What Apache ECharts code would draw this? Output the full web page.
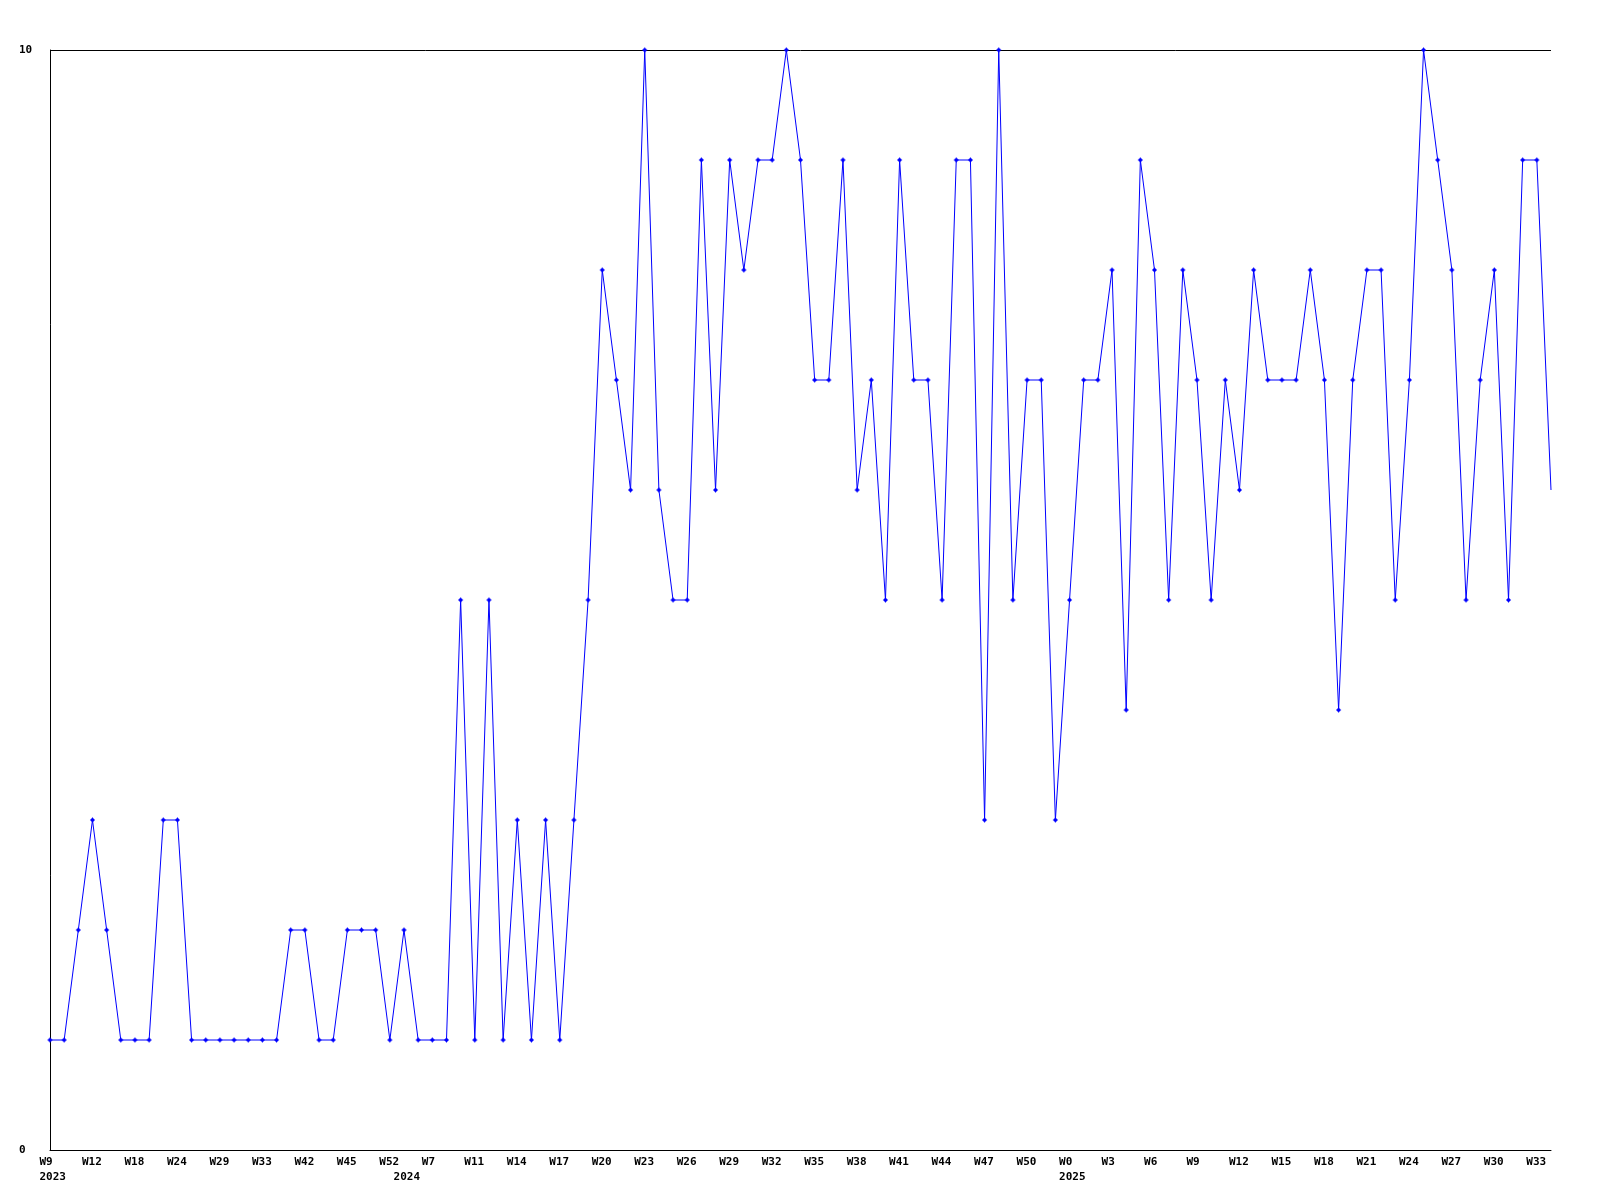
<!DOCTYPE html>
<html>
<head>
<meta charset="utf-8">
<script src="https://cdn.jsdelivr.net/npm/echarts@6/dist/echarts.min.js"></script>
<style>
  html, body { margin: 0; padding: 0; background: #fff; }
  #chart { width: 1600px; height: 1200px; }
</style>
</head>
<body>
<div id="chart"></div>
<script>
// Series values, one per plotted point (107 points)
const values = [
  1, 1, 2, 3, 2, 1, 1, 1, 3, 3,
  1, 1, 1, 1, 1, 1, 1, 2, 2, 1,
  1, 2, 2, 2, 1, 2, 1, 1, 1, 5,
  1, 5, 1, 3, 1, 3, 1, 3, 5, 8,
  7, 6, 10, 6, 5, 5, 9, 6, 9, 8,
  9, 9, 10, 9, 7, 7, 9, 6, 7, 5,
  9, 7, 7, 5, 9, 9, 3, 10, 5, 7,
  7, 3, 5, 7, 7, 8, 4, 9, 8, 5,
  8, 7, 5, 7, 6, 8, 7, 7, 7, 8,
  7, 4, 7, 8, 8, 5, 7, 10, 9, 8,
  5, 7, 8, 5, 9, 9, 6
];

// Week tick labels, shown on every third point
const weekTicks = [
  'W9', 'W12', 'W18', 'W24', 'W29', 'W33', 'W42', 'W45', 'W52', 'W7',
  'W11', 'W14', 'W17', 'W20', 'W23', 'W26', 'W29', 'W32', 'W35', 'W38',
  'W41', 'W44', 'W47', 'W50', 'W0', 'W3', 'W6', 'W9', 'W12', 'W15',
  'W18', 'W21', 'W24', 'W27', 'W30', 'W33'
];
const weekTickStep = 3;

// Year tick labels and the point index where each is shown
const yearTicks = ['2023', '2024', '2025'];
const yearTickAt = [0, 25, 72];

// Y axis
const yMin = 0;
const yMax = 10;

const categories = values.map((_, i) => String(i));

const FONT = '"DejaVu Sans Mono", "Liberation Mono", monospace';

const seriesData = values.map((v, i) =>
  i === values.length - 1 ? { value: v, symbol: 'none' } : v
);

const chart = echarts.init(document.getElementById('chart'), null, { renderer: 'canvas' });

chart.setOption({
  animation: false,
  backgroundColor: '#ffffff',
  grid: { left: 50, right: 49, top: 50, bottom: 50, containLabel: false, outerBoundsMode: 'none' },
  xAxis: {
    type: 'category',
    data: categories,
    boundaryGap: false,
    axisLine: { show: true, lineStyle: { color: '#000', width: 1 } },
    axisTick: { show: false },
    splitLine: { show: false },
    axisLabel: {
      interval: 0,
      margin: 5,
      align: 'center',
      lineHeight: 15,
      formatter: function (val, idx) {
        const lines = [];
        const hasWeek = idx % weekTickStep === 0 && weekTicks[idx / weekTickStep] !== undefined;
        const yi = yearTickAt.indexOf(idx);
        if (!hasWeek && yi < 0) return '';
        lines.push(hasWeek ? '{a|' + weekTicks[idx / weekTickStep] + '}' : '{a| }');
        if (yi >= 0) lines.push('{a|' + yearTicks[yi] + '}');
        return lines.join('\n');
      },
      rich: {
        a: {
          width: 21,
          align: 'left',
          fontFamily: FONT,
          fontWeight: 'bold',
          fontSize: 11,
          lineHeight: 15,
          color: '#000'
        }
      }
    }
  },
  yAxis: {
    type: 'value',
    min: yMin,
    max: yMax,
    interval: yMax - yMin,
    axisLine: { show: true, lineStyle: { color: '#000', width: 1 } },
    axisTick: { show: false },
    splitLine: { show: true, lineStyle: { color: '#000', width: 1 } },
    axisLabel: {
      align: 'left',
      margin: 31,
      fontFamily: FONT,
      fontWeight: 'bold',
      fontSize: 11,
      color: '#000'
    }
  },
  series: [{
    type: 'line',
    data: seriesData,
    showAllSymbol: true,
    symbol: 'path://M2,0L3,0L3,1L4,1L4,2L5,2L5,3L4,3L4,4L3,4L3,5L2,5L2,4L1,4L1,3L0,3L0,2L1,2L1,1L2,1Z',
    symbolSize: 5,
    symbolKeepAspect: true,
    lineStyle: { color: '#0000ff', width: 1 },
    itemStyle: { color: '#0000ff', borderWidth: 0 },
    emphasis: { disabled: true },
    clip: false
  }]
});
</script>
</body>
</html>
